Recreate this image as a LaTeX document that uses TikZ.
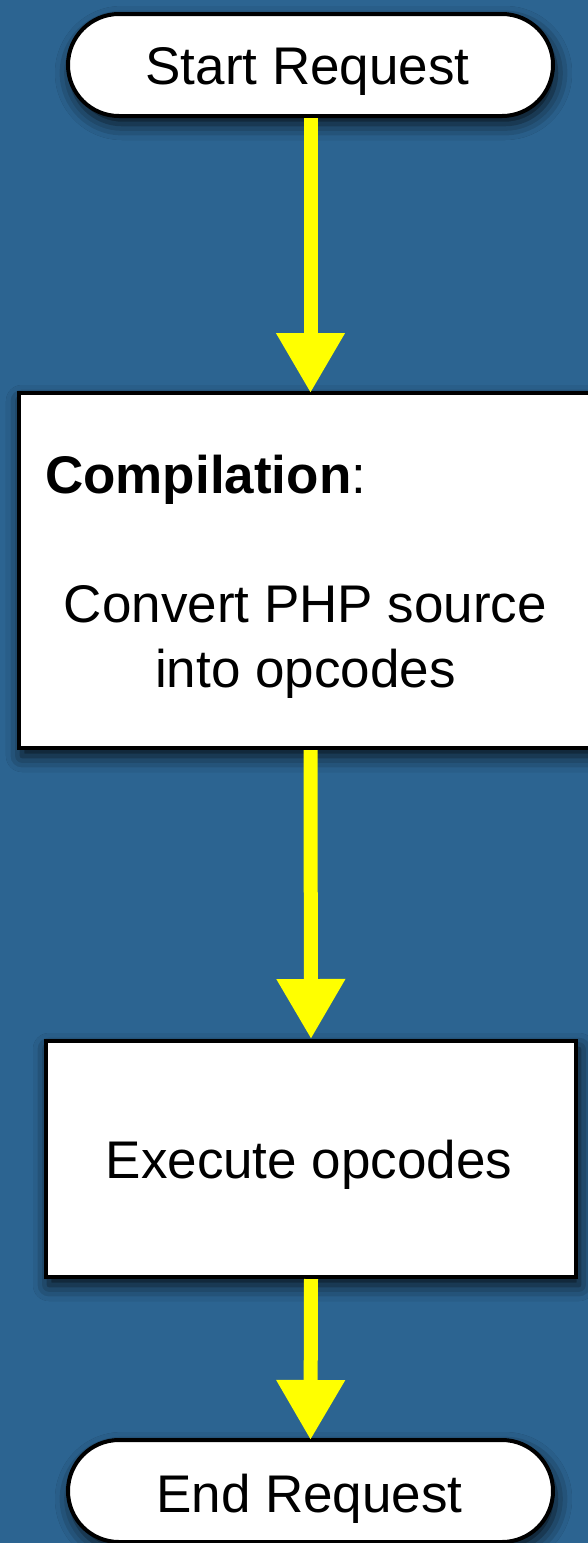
\documentclass[tikz,border=0pt]{standalone}
\usepackage{fontspec}
\setmainfont{Liberation Sans}
\usetikzlibrary{arrows.meta,shadows.blur}
\definecolor{bgblue}{RGB}{44,100,145}
\definecolor{arrowyellow}{RGB}{255,255,0}
\begin{document}
\begin{tikzpicture}[x=1pt,y=-1pt,
  box/.style={draw=black,line width=4pt,fill=white,inner sep=0pt,
     blur shadow={shadow xshift=3pt,shadow yshift=-8pt,shadow blur radius=16pt,shadow opacity=85}},
  term/.style={box,rounded corners=51pt},
  lbl/.style={font=\fontsize{53}{64}\selectfont,anchor=base,inner sep=0pt},
  flow/.style={draw=arrowyellow,line width=14pt,-{Triangle[width=65pt,length=60pt]}}]
\useasboundingbox (0,0) rectangle (588,1543);
\fill[bgblue] (0,0) rectangle (588,1543);
% shapes
\node[term,minimum width=485pt,minimum height=102pt] (start) at (310.5,65) {};
\node[box,minimum width=583pt,minimum height=355pt] (comp) at (310.5,570.5) {};
\node[box,minimum width=530pt,minimum height=236pt] (exec) at (311,1159) {};
\node[term,minimum width=485pt,minimum height=102pt] (end) at (310.5,1491) {};
% labels
\node[lbl] (startlbl) at (307.5,84) {Start Request};
\node[lbl,anchor=base west] (complbl) at (45,493) {\textbf{Compilation}:};
\node[lbl] (convlbl) at (305.5,622) {Convert PHP source};
\node[lbl] (intolbl) at (305.5,687) {into opcodes};
\node[lbl] (execlbl) at (309,1178) {Execute opcodes};
\node[lbl] (endlbl) at (309.5,1512) {End Request};
% connectors
\draw[flow] (start.south) -- ([yshift=-2pt]comp.north);
\draw[flow] (comp.south) -- (exec.north);
\draw[flow] (exec.south) -- ([yshift=-2pt]end.north);
\end{tikzpicture}
\end{document}
